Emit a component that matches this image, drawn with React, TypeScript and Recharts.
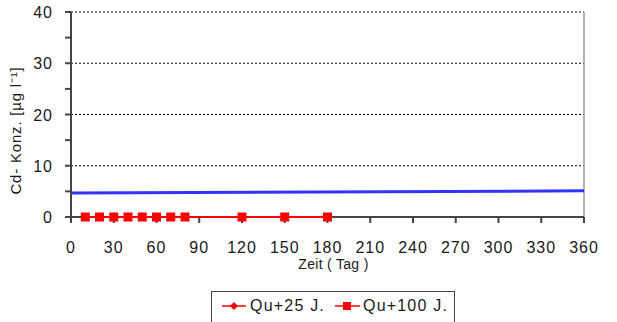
import { LineChart, Line, XAxis, YAxis, CartesianGrid, Legend, ReferenceLine } from 'recharts';

const days = [10, 20, 30, 40, 50, 60, 70, 80, 120, 150, 180];
const qu25 = [0, 0, 0, 0, 0, 0, 0, 0, 0, 0, 0];
const qu100 = [0, 0, 0, 0, 0, 0, 0, 0, 0, 0, 0];
const refDays = [0, 360];
const refValues = [4.7, 5.1];
const xTicks = [0, 30, 60, 90, 120, 150, 180, 210, 240, 270, 300, 330, 360];
const yTicks = [0, 5, 10, 15, 20, 25, 30, 35, 40];
const gridValues = [10, 20, 30, 40];

const font = '"Liberation Sans", Arial, sans-serif';

const series25 = days.map((d, i) => ({ day: d, value: qu25[i] }));
const series100 = days.map((d, i) => ({ day: d, value: qu100[i] }));
const refSeries = refDays.map((d, i) => ({ day: d, value: refValues[i] }));

// square marker for Qu+100
const SquareDot = (props: any) => {
  const { cx, cy } = props;
  if (cx == null || cy == null) return null;
  return <rect x={cx - 4.5} y={cy - 4.5} width={9} height={9} fill="#ff0000" />;
};

// diamond marker for Qu+25
const DiamondDot = (props: any) => {
  const { cx, cy } = props;
  if (cx == null || cy == null) return null;
  return <polygon points={`${cx},${cy - 4} ${cx + 4},${cy} ${cx},${cy + 4} ${cx - 4},${cy}`} fill="#ff0000" />;
};

const YTick = (props: any) => {
  const { x, y, payload } = props;
  if (payload.value % 10 !== 0) return null;
  return (
    <text x={x - 10} y={y + 6} textAnchor="end" fontSize={16} letterSpacing={1} fill="#1a1a1a" fontFamily={font}>
      {payload.value}
    </text>
  );
};

const XTick = (props: any) => {
  const { x, y, payload } = props;
  return (
    <text x={x} y={y + 28} textAnchor="middle" fontSize={16} letterSpacing={1} fill="#1a1a1a" fontFamily={font}>
      {payload.value}
    </text>
  );
};

const LegendBox = () => (
  <div
    style={{
      border: '1px solid #444',
      borderBottom: 'none',
      width: 244,
      height: 40,
      boxSizing: 'border-box',
      fontFamily: font,
      fontSize: 16,
      letterSpacing: 1.2,
      color: '#1a1a1a',
      display: 'flex',
      alignItems: 'flex-start',
      paddingTop: 5,
      paddingLeft: 10,
    }}
  >
    <svg width={24} height={18}>
      <line x1={0} y1={9} x2={24} y2={9} stroke="#ff0000" strokeWidth={1.5} />
      <polygon points="12,5 16,9 12,13 8,9" fill="#ff0000" />
    </svg>
    <span style={{ marginLeft: 4, marginRight: 10 }}>Qu+25 J.</span>
    <svg width={25} height={18}>
      <line x1={0} y1={9} x2={25} y2={9} stroke="#ff0000" strokeWidth={1.5} />
      <rect x={8} y={5} width={8} height={8} fill="#ff0000" />
    </svg>
    <span style={{ marginLeft: 3 }}>Qu+100 J.</span>
  </div>
);

export default function App() {
  return (
    <div style={{ position: 'fixed', left: 0, top: 0, width: 617, height: 322, background: '#fff', overflow: 'hidden' }}>
      <LineChart width={617} height={322} margin={{ top: 12, right: 33, left: 0, bottom: 0 }}>
        <CartesianGrid
          horizontal
          vertical={false}
          horizontalValues={gridValues}
          stroke="#000"
          strokeDasharray="2 2"
        />
        <XAxis
          type="number"
          dataKey="day"
          domain={[0, 360]}
          ticks={xTicks}
          allowDataOverflow
          height={65}
          axisLine={false}
          tickLine={{ stroke: '#444', strokeWidth: 2 }}
          tickSize={6}
          tick={<XTick />}
          label={{ value: 'Zeit ( Tag )', position: 'insideTop', offset: 42, dx: 6, fontSize: 14, letterSpacing: 0.3, fill: '#1a1a1a', fontFamily: font }}
        />
        <YAxis
          type="number"
          domain={[0, 40]}
          ticks={yTicks}
          interval={0}
          width={71}
          stroke="#444"
          strokeWidth={2}
          tickSize={6}
          tick={<YTick />}
          label={{ value: 'Cd- Konz. [µg l⁻¹]', angle: -90, position: 'insideLeft', offset: 16, dy: 16, fontSize: 15, letterSpacing: 0.8, fill: '#1a1a1a', fontFamily: font, style: { textAnchor: 'middle' } }}
        />
        <ReferenceLine x={360} stroke="#999" strokeWidth={1.5} />
        <ReferenceLine y={0} stroke="#444" strokeWidth={2} />
        <Line
          data={refSeries}
          dataKey="value"
          type="linear"
          stroke="#3333ff"
          strokeWidth={3}
          dot={false}
          legendType="none"
          isAnimationActive={false}
        />
        <Line
          data={series25}
          dataKey="value"
          name="Qu+25 J."
          type="linear"
          stroke="#ff0000"
          strokeWidth={2}
          dot={<DiamondDot />}
          isAnimationActive={false}
        />
        <Line
          data={series100}
          dataKey="value"
          name="Qu+100 J."
          type="linear"
          stroke="#ff0000"
          strokeWidth={2}
          dot={<SquareDot />}
          isAnimationActive={false}
        />
        <Legend
          content={<LegendBox />}
          wrapperStyle={{ position: 'absolute', left: 211, top: 291, width: 244, bottom: 'auto' }}
        />
      </LineChart>
    </div>
  );
}
